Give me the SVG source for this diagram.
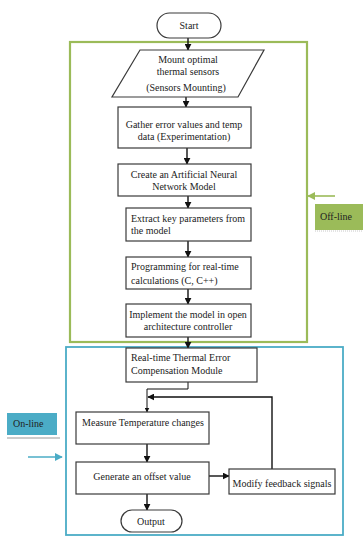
<svg xmlns="http://www.w3.org/2000/svg" width="363" height="537" viewBox="0 0 363 537">
  <style>
    .box { fill: #ffffff; stroke: #3a3a3a; stroke-width: 1.2; }
    text { font-family: 'Liberation Serif', 'Times New Roman', serif; font-size: 10px; fill: #222222; }
    .c { text-anchor: middle; }
    .edge { fill: none; stroke: #111111; stroke-width: 1.4; }
  </style>
  <defs>
    <marker id="ah" viewBox="0 0 10 10" refX="9" refY="5" markerWidth="5" markerHeight="5" orient="auto">
      <path d="M0,0 L10,5 L0,10 z" fill="#111111"/>
    </marker>
    <marker id="ahg" viewBox="0 0 10 10" refX="9" refY="5" markerWidth="5" markerHeight="5" orient="auto">
      <path d="M0,0 L10,5 L0,10 z" fill="#9bbb59"/>
    </marker>
    <marker id="ahb" viewBox="0 0 10 10" refX="9" refY="5" markerWidth="5" markerHeight="5" orient="auto">
      <path d="M0,0 L10,5 L0,10 z" fill="#4bacc6"/>
    </marker>
  </defs>

  <rect width="363" height="537" fill="#ffffff"/>

  <!-- phase frames -->
  <g id="offline-frame">
    <rect x="70" y="42" width="237" height="300" fill="none" stroke="#9bbb59" stroke-width="2.2"/>
  </g>
  <g id="online-frame">
    <rect x="66" y="347" width="277" height="188" fill="none" stroke="#4bacc6" stroke-width="1.8"/>
  </g>

  <!-- connectors -->
  <g id="connectors">
    <line class="edge" x1="188" y1="38" x2="188" y2="50" marker-end="url(#ah)"/>
    <line class="edge" x1="186" y1="97" x2="186" y2="107" marker-end="url(#ah)"/>
    <line class="edge" x1="187" y1="148" x2="187" y2="164" marker-end="url(#ah)"/>
    <line class="edge" x1="188" y1="196" x2="188" y2="208" marker-end="url(#ah)"/>
    <line class="edge" x1="188" y1="241" x2="188" y2="257" marker-end="url(#ah)"/>
    <line class="edge" x1="188" y1="289" x2="188" y2="304" marker-end="url(#ah)"/>
    <line class="edge" x1="188" y1="337" x2="188" y2="348" marker-end="url(#ah)"/>
    <polyline class="edge" points="188,382 188,389 147,389 147,412" marker-end="url(#ah)" style="stroke-width:1"/>
    <line class="edge" x1="147" y1="444" x2="147" y2="462" marker-end="url(#ah)"/>
    <line class="edge" x1="209" y1="476" x2="229" y2="476" marker-end="url(#ah)"/>
    <polyline class="edge" points="272,469 272,397 148,397" marker-end="url(#ah)"/>
    <line class="edge" x1="147" y1="494" x2="147" y2="510" marker-end="url(#ah)"/>
  </g>

  <!-- nodes -->
  <g id="start">
    <rect class="box" x="157" y="13" width="64" height="25" rx="12.5"/>
    <text class="c" x="189" y="29">Start</text>
  </g>
  <g id="mount">
    <polygon class="box" points="140,50 264,50 238,97 112,97"/>
    <text class="c" x="188" y="63">Mount optimal</text>
    <text class="c" x="188" y="75">thermal sensors</text>
    <text class="c" x="186" y="91">(Sensors Mounting)</text>
  </g>
  <g id="gather">
    <rect class="box" x="118" y="107" width="133" height="41"/>
    <text class="c" x="184" y="128">Gather error values and temp</text>
    <text class="c" x="184" y="140">data (Experimentation)</text>
  </g>
  <g id="ann">
    <rect class="box" x="118" y="164" width="133" height="32"/>
    <text class="c" x="184" y="178">Create an Artificial Neural</text>
    <text class="c" x="184" y="190">Network Model</text>
  </g>
  <g id="extract">
    <rect class="box" x="126" y="208" width="125" height="33"/>
    <text x="131" y="222">Extract key parameters from</text>
    <text x="131" y="234">the model</text>
  </g>
  <g id="programming">
    <rect class="box" x="126" y="257" width="125" height="32"/>
    <text x="131" y="270">Programming for real-time</text>
    <text x="131" y="284">calculations (C, C++)</text>
  </g>
  <g id="implement">
    <rect class="box" x="126" y="304" width="125" height="33"/>
    <text class="c" x="188" y="318">Implement the model in open</text>
    <text class="c" x="188" y="330">architecture controller</text>
  </g>
  <g id="compensation">
    <rect class="box" x="126" y="348" width="131" height="34"/>
    <text x="131" y="361">Real-time Thermal Error</text>
    <text x="131" y="374">Compensation Module</text>
  </g>
  <g id="measure">
    <rect class="box" x="76" y="412" width="133" height="32"/>
    <text class="c" x="143" y="426">Measure Temperature changes</text>
  </g>
  <g id="generate">
    <rect class="box" x="76" y="462" width="133" height="32"/>
    <text class="c" x="142" y="480">Generate an offset value</text>
  </g>
  <g id="modify">
    <rect class="box" x="229" y="469" width="106" height="25"/>
    <text class="c" x="282" y="487">Modify feedback signals</text>
  </g>
  <g id="output">
    <rect class="box" x="121" y="510" width="61" height="22" rx="11"/>
    <text class="c" x="151" y="525">Output</text>
  </g>

  <!-- phase labels -->
  <g id="offline-label">
    <line x1="335" y1="196" x2="308" y2="196" stroke="#9bbb59" stroke-width="1.6" marker-end="url(#ahg)"/>
    <rect x="315" y="204" width="48" height="26" fill="#9bbb59"/>
    <line x1="315" y1="231" x2="363" y2="231" stroke="#c8c8c8" stroke-width="1" stroke-dasharray="1,1"/>
    <text x="320" y="220" fill="#1a1a1a">Off-line</text>
  </g>
  <g id="online-label">
    <rect x="7" y="413" width="50" height="22" fill="#4bacc6"/>
    <line x1="7" y1="438" x2="60" y2="438" stroke="#9a9a9a" stroke-width="1.2"/>
    <text x="13" y="427" fill="#1a1a1a">On-line</text>
    <line x1="28" y1="457" x2="62" y2="457" stroke="#4bacc6" stroke-width="1.6" marker-end="url(#ahb)"/>
  </g>
</svg>
